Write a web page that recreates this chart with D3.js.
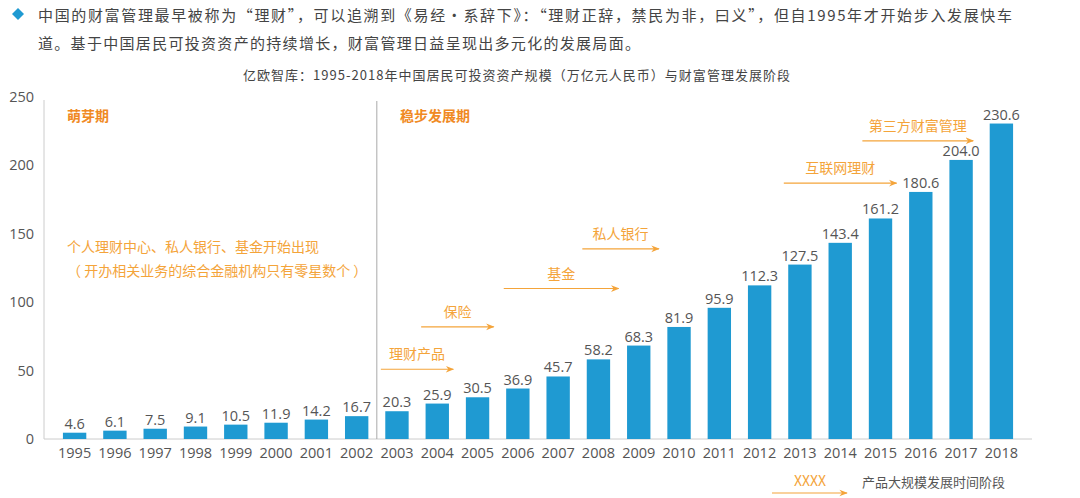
<!DOCTYPE html>
<html><head><meta charset="utf-8">
<script src="https://cdn.jsdelivr.net/npm/d3@7"></script>
<style>
body{margin:0;background:#fff;font-family:"Noto Sans CJK SC","Open Sans",sans-serif;}
</style></head>
<body><svg id="c" width="1080" height="498"></svg>
<script>
var years = d3.range(1995, 2019);
var values = [4.6,6.1,7.5,9.1,10.5,11.9,14.2,16.7,20.3,25.9,30.5,36.9,45.7,58.2,68.3,81.9,95.9,112.3,127.5,143.4,161.2,180.6,204.0,230.6];
var yTicks = [0,50,100,150,200,250];
// product arrows: start year, end year, level (value units), label
var arrows = [
  {from:2002.6, to:2004.4, v:51, label:'理财产品'},
  {from:2003.6, to:2005.4, v:82, label:'保险'},
  {from:2005.65, to:2008.5, v:110, label:'基金'},
  {from:2007.6, to:2009.5, v:139, label:'私人银行'},
  {from:2012.6, to:2015.4, v:187, label:'互联网理财'},
  {from:2014.55, to:2017.3, v:218, label:'第三方财富管理'}
];
var orange = '#f4a43a', blue = '#1f9ad2', grey = '#555';

var svg = d3.select('#c');
var x = d3.scaleBand().domain(years).range([46, 1030]).padding(0.42),
    xPos = d3.scaleLinear().domain([1995, 2018]).range([x(1995) + x.bandwidth()/2, x(2018) + x.bandwidth()/2]),
    y = d3.scaleLinear().domain([0, 250]).range([439, 97]);

svg.append('defs').append('marker')
  .attr('id','ah').attr('viewBox','0 0 10 10').attr('refX',9).attr('refY',5)
  .attr('markerWidth',7).attr('markerHeight',7).attr('orient','auto')
  .append('path').attr('d','M0,1 L10,5 L0,9 L3,5 Z').attr('fill',orange);

// header text
svg.append('path').attr('d','M18,8 L24,14 L18,20 L12,14 Z').attr('fill','#1f9ad2');
svg.append('text').attr('x',38).attr('y',21).attr('font-size',15).attr('fill','#444')
  .attr('textLength',974).attr('lengthAdjust','spacing')
  .text('中国的财富管理最早被称为“理财”，可以追溯到《易经·系辞下》：“理财正辞，禁民为非，曰义”，但自1995年才开始步入发展快车');
svg.append('text').attr('x',38).attr('y',49).attr('font-size',15).attr('fill','#444')
  .attr('textLength',602).attr('lengthAdjust','spacing')
  .text('道。基于中国居民可投资资产的持续增长，财富管理日益呈现出多元化的发展局面。');
svg.append('text').attr('x',243).attr('y',80).attr('font-size',13).attr('fill','#444')
  .attr('textLength',547).attr('lengthAdjust','spacing')
  .text('亿欧智库：1995-2018年中国居民可投资资产规模（万亿元人民币）与财富管理发展阶段');

// axes
svg.append('line').attr('x1',44).attr('x2',44).attr('y1',100).attr('y2',439).attr('stroke','#ccc');
svg.append('line').attr('x1',44).attr('x2',1032).attr('y1',439).attr('y2',439).attr('stroke','#ccc');
svg.selectAll('.yt').data(yTicks).enter().append('text')
  .attr('x',34).attr('y',d => y(d) + 5).attr('text-anchor','end')
  .attr('font-size',14.5).attr('fill',grey).attr('font-family','Open Sans').text(d => d);
svg.selectAll('.xt').data(years).enter().append('text')
  .attr('x',d => x(d) + x.bandwidth()/2).attr('y',458).attr('text-anchor','middle')
  .attr('font-size',14.5).attr('fill',grey).attr('font-family','Open Sans').text(d => d);

// divider between stages
var divX = (x(2002) + x.bandwidth() + x(2003)) / 2;
svg.append('line').attr('x1',divX).attr('x2',divX).attr('y1',101).attr('y2',439).attr('stroke','#aaa');

// bars
svg.selectAll('.bar').data(values).enter().append('rect')
  .attr('x',(d,i) => x(years[i])).attr('width',x.bandwidth())
  .attr('y',d => y(d)).attr('height',d => y(0) - y(d)).attr('fill',blue);
svg.selectAll('.lbl').data(values).enter().append('text')
  .attr('x',(d,i) => x(years[i]) + x.bandwidth()/2).attr('y',d => y(d) - 4)
  .attr('text-anchor','middle').attr('font-size',14.5).attr('fill',grey).attr('font-family','Open Sans')
  .text(d => d.toFixed(1));

// stage titles
svg.append('text').attr('x',67).attr('y',121).attr('font-size',14).attr('font-weight','bold').attr('fill','#f08a24').text('萌芽期');
svg.append('text').attr('x',400).attr('y',121).attr('font-size',14).attr('font-weight','bold').attr('fill','#f08a24').text('稳步发展期');
svg.append('text').attr('x',67).attr('y',252).attr('font-size',14).attr('fill',orange).text('个人理财中心、私人银行、基金开始出现');
svg.append('text').attr('x',67).attr('y',276).attr('font-size',14).attr('fill',orange).text('（ 开办相关业务的综合金融机构只有零星数个 ）');

// arrows
var g = svg.selectAll('.arr').data(arrows).enter().append('g');
g.append('line').attr('x1',d => xPos(d.from)).attr('x2',d => xPos(d.to))
  .attr('y1',d => y(d.v)).attr('y2',d => y(d.v)).attr('stroke',orange).attr('stroke-width',1.2).attr('marker-end','url(#ah)');
g.append('text').attr('x',d => (xPos(d.from) + xPos(d.to)) / 2).attr('y',d => y(d.v) - 10)
  .attr('text-anchor','middle').attr('font-size',14).attr('fill',orange).text(d => d.label);

// legend
svg.append('line').attr('x1',772).attr('x2',847).attr('y1',493).attr('y2',493).attr('stroke',orange).attr('stroke-width',1.2).attr('marker-end','url(#ah)');
svg.append('text').attr('x',810).attr('y',486).attr('text-anchor','middle').attr('font-size',14).attr('fill',orange).text('XXXX');
svg.append('text').attr('x',862).attr('y',487).attr('font-size',13).attr('fill','#555').text('产品大规模发展时间阶段');
</script></body></html>
